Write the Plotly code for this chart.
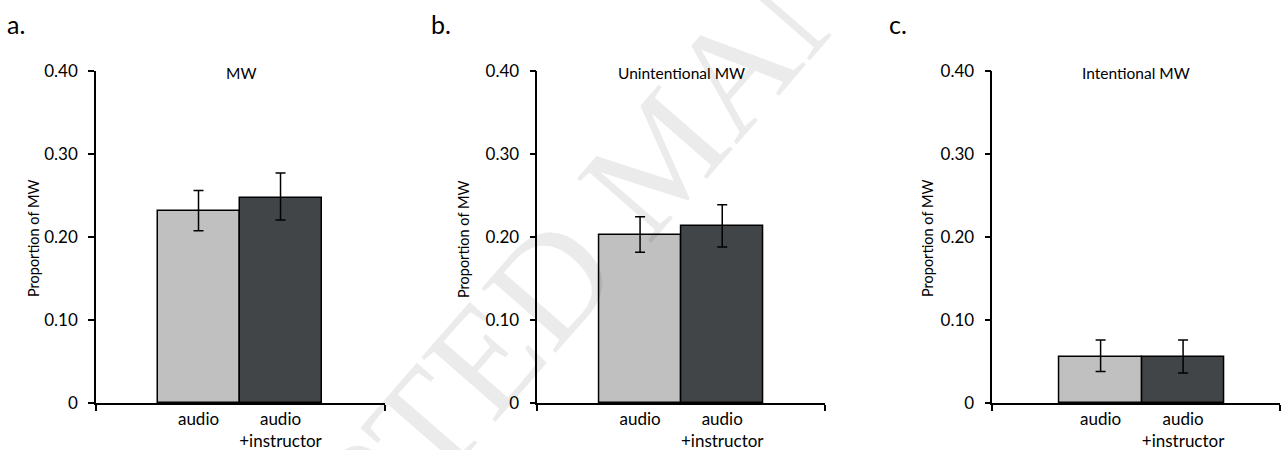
import plotly.graph_objects as go

# ---- data ----
categories = ["audio", "audio<br>+instructor"]
panel_titles = ["MW", "Unintentional MW", "Intentional MW"]
panel_letters = ["a.", "b.", "c."]
audio_means = [0.231, 0.202, 0.056]
instructor_means = [0.247, 0.213, 0.056]
audio_err_plus = [0.025, 0.0225, 0.020]
audio_err_minus = [0.0234, 0.0205, 0.018]
instructor_err_plus = [0.030, 0.026, 0.020]
instructor_err_minus = [0.0265, 0.025, 0.020]
y_tickvals = [0, 0.1, 0.2, 0.3, 0.4]
y_ticktext = ["0", "0.10", "0.20", "0.30", "0.40"]
y_label = "Proportion of MW"

# ---- layout geometry (pixels) ----
W, H = 1282, 450
x_domains_px = [(96, 385), (537.3, 825), (992.3, 1280)]
x_ranges = [(-1.25, 2.274), (-1.251, 2.251), (-1.313, 2.175)]
y_domain = [(H - 403) / H, (H - 71) / H]
ylabel_x_px = [33, 463, 927]
letter_x_px = [16, 441, 898]

FONT = "Lato, 'Open Sans', sans-serif"
LIGHT = "#c0c0c0"
DARK = "#414548"

fig = go.Figure()
layout = dict(
    width=W, height=H,
    margin=dict(l=0, r=0, t=0, b=0),
    paper_bgcolor="white", plot_bgcolor="white",
    showlegend=False,
    bargap=0,
    font=dict(family=FONT, size=16, color="black"),
)
annotations = []

# watermark
annotations.append(dict(
    text="ACCEPTED MANUSCRIPT", x=660 / W, y=(H - 155) / H, xref="paper", yref="paper",
    xanchor="center", yanchor="middle",
    showarrow=False, textangle=-49,
    font=dict(family="Liberation Serif, serif", size=150, color="rgba(0,0,0,0.08)"),
))

for i in range(3):
    sfx = "" if i == 0 else str(i + 1)
    fig.add_trace(go.Bar(
        x=[0, 1], y=[audio_means[i], instructor_means[i]],
        width=1,
        marker=dict(color=[LIGHT, DARK], line=dict(color="black", width=1.5)),
        error_y=dict(type="data", symmetric=False,
                     array=[audio_err_plus[i], instructor_err_plus[i]],
                     arrayminus=[audio_err_minus[i], instructor_err_minus[i]],
                     color="black", thickness=1.5, width=5),
        xaxis="x" + sfx, yaxis="y" + sfx,
    ))
    x0, x1 = x_domains_px[i]
    layout["xaxis" + sfx] = dict(
        domain=[x0 / W, x1 / W], range=list(x_ranges[i]), anchor="y" + sfx,
        tickmode="array", tickvals=[0, 1], ticktext=categories, ticks="",
        showline=True, linecolor="black", linewidth=1.5, showgrid=False, zeroline=False,
        tickfont=dict(family=FONT, size=17), fixedrange=True,
        minor=dict(tickmode="array", tickvals=list(x_ranges[i]), ticks="outside",
                   ticklen=6, tickwidth=1.5, tickcolor="black", showgrid=False),
        automargin=False,
    )
    layout["yaxis" + sfx] = dict(
        domain=y_domain, range=[0, 0.4], anchor="x" + sfx,
        tickmode="array", tickvals=y_tickvals, ticktext=y_ticktext,
        ticks="outside", ticklen=6, tickwidth=1.5, tickcolor="black",
        ticklabelstandoff=7,
        showline=True, linecolor="black", linewidth=1.5, showgrid=False, zeroline=False,
        tickfont=dict(family=FONT, size=17), automargin=False, fixedrange=True,
    )
    # panel title
    annotations.append(dict(
        text=panel_titles[i], xref="x" + sfx + " domain", yref="paper",
        x=0.5, y=(H - 73) / H, showarrow=False,
        font=dict(family=FONT, size=15.5), xanchor="center", yanchor="middle",
    ))
    # y label
    annotations.append(dict(
        text=y_label, xref="paper", yref="paper",
        x=ylabel_x_px[i] / W, y=(H - 239) / H, textangle=-90, showarrow=False,
        font=dict(family=FONT, size=14.5), xanchor="center", yanchor="middle",
    ))
    # panel letter
    annotations.append(dict(
        text=panel_letters[i], xref="paper", yref="paper",
        x=letter_x_px[i] / W, y=(H - 24) / H, showarrow=False,
        font=dict(family=FONT, size=25), xanchor="center", yanchor="middle",
    ))

layout["annotations"] = annotations
fig.update_layout(**layout)
fig.write_html("out.html", config={"displayModeBar": False},
               post_script="document.body.style.margin='0';document.body.style.overflow='hidden';")
